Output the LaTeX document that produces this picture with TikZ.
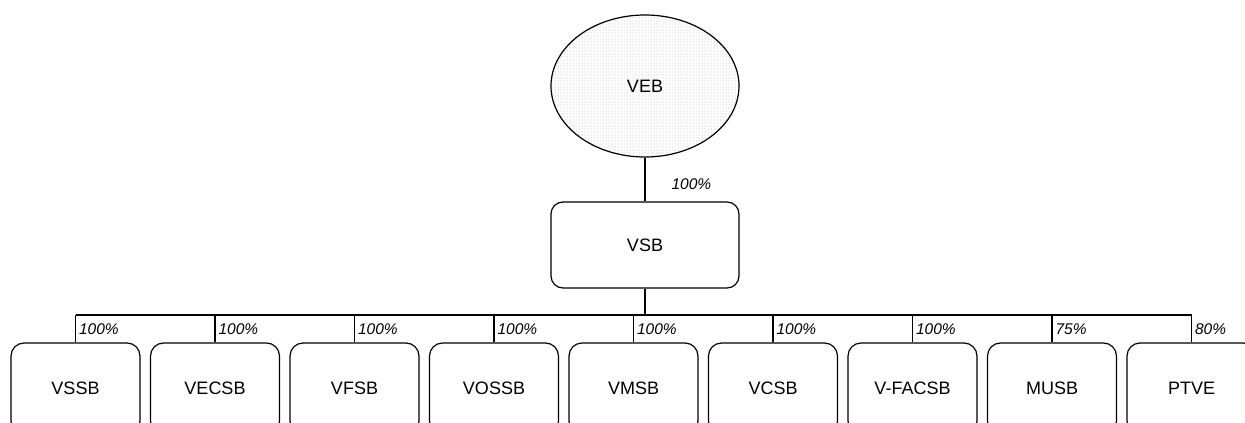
\documentclass[tikz,border=0pt]{standalone}
\usepackage{fontspec}
\setmainfont{Liberation Sans}
\usetikzlibrary{shapes.geometric,patterns}
\begin{document}
\begin{tikzpicture}[x=1pt,y=-1pt,
  line width=1.2pt,
  ent/.style={draw,rounded corners=13pt,minimum width=129pt,minimum height=91pt,inner sep=0pt,font=\fontsize{18}{20}\selectfont},
  topbox/.style={draw,rounded corners=12pt,minimum width=188pt,minimum height=86pt,inner sep=0pt,font=\fontsize{18}{20}\selectfont},
  pct/.style={font=\fontsize{15.5}{17}\selectfont\itshape,anchor=west,inner sep=0pt}]
\clip (0,0) rectangle (1245,423);
\fill[white] (0,0) rectangle (1245,423);
\node[ellipse,draw,minimum width=188pt,minimum height=142pt,inner sep=0pt,
  pattern=dots,pattern color=gray!70,font=\fontsize{18}{20}\selectfont] (veb) at (645,86) {};
\node[font=\fontsize{18}{20}\selectfont] (vebt) at (645,86) {VEB};
\node[topbox] (vsb) at (645,245) {VSB};
\draw (veb.south) -- (vsb.north);
\node[pct] (p0) at (671,184) {100\%};
\coordinate (bl) at (75.5,315);
\coordinate (br) at (1191.5,315);
\coordinate (bm) at (645,315);
\draw (vsb.south) -- (bm);
\draw (bl) -- (br);
\foreach \i/\name/\p in {0/VSSB/100,1/VECSB/100,2/VFSB/100,3/VOSSB/100,4/VMSB/100,5/VCSB/100,6/V-FACSB/100,7/MUSB/75,8/PTVE/80}{
  \node[ent] (b\i) at ({75.5+139.5*\i},388.5) {\name};
  \coordinate (d\i) at ({75.5+139.5*\i},315);
  \draw (d\i) -- (b\i.north);
  \node[pct] (l\i) at ({78.5+139.5*\i},329) {\p\%};
}
\end{tikzpicture}
\end{document}
